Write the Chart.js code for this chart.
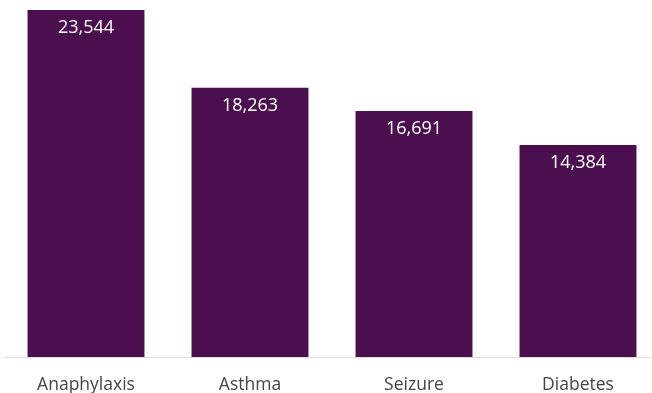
<!DOCTYPE html>
<html>
<head>
<meta charset="utf-8">
<script src="https://cdn.jsdelivr.net/npm/chart.js@4"></script>
<style>
  html, body { margin: 0; padding: 0; background: #fff; overflow: hidden; }
  #wrap { width: 660px; height: 414px; position: relative; }
</style>
</head>
<body>
<div id="wrap"><canvas id="conditions"></canvas></div>
<script>
const categories = ['Anaphylaxis', 'Asthma', 'Seizure', 'Diabetes'];
const counts = [23544, 18263, 16691, 14384];

// draw the value inside the top of each bar
const barValues = {
  id: 'barValues',
  afterDatasetsDraw(chart) {
    const ctx = chart.ctx;
    const meta = chart.getDatasetMeta(0);
    ctx.save();
    ctx.font = '18px "Open Sans"';
    ctx.fillStyle = '#ffffff';
    ctx.textAlign = 'center';
    ctx.textBaseline = 'middle';
    meta.data.forEach((bar, i) => {
      ctx.fillText(counts[i].toLocaleString('en-US'), bar.x, bar.y + 18);
    });
    ctx.restore();
  }
};

const ctx = document.getElementById('conditions').getContext('2d');
const chart = new Chart(ctx, {
  type: 'bar',
  data: {
    labels: categories,
    datasets: [{
      data: counts,
      backgroundColor: '#4b0f4f',
      barPercentage: 0.713,
      categoryPercentage: 1.0
    }]
  },
  options: {
    responsive: true,
    maintainAspectRatio: false,
    animation: false,
    layout: { padding: { left: 4, right: 0, top: 10, bottom: 0 } },
    plugins: { legend: { display: false }, tooltip: { enabled: false } },
    scales: {
      x: {
        grid: { display: false, drawTicks: false },
        border: { display: true, color: '#dddddd', width: 1 },
        ticks: { color: '#444444', font: { family: '"Open Sans"', size: 17.5 }, padding: 18 }
      },
      y: {
        display: false,
        min: 0,
        max: Math.max(...counts)
      }
    }
  },
  plugins: [barValues]
});
</script>
</body>
</html>
